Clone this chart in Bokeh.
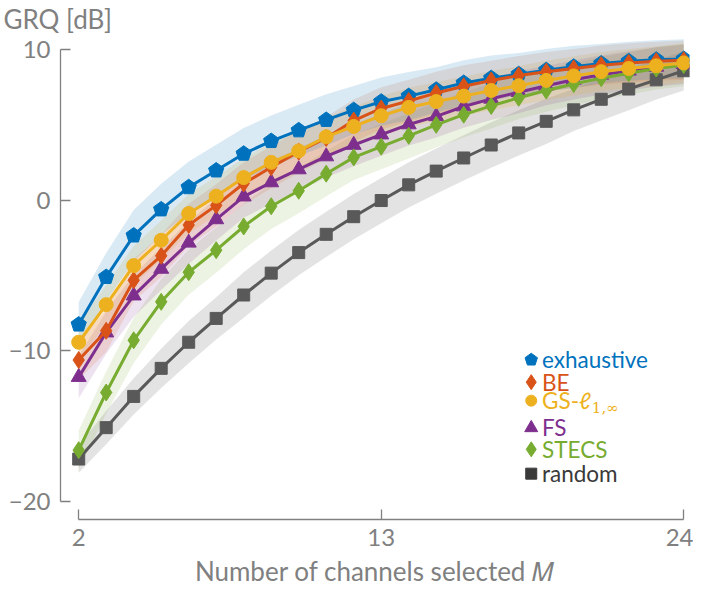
from bokeh.plotting import figure
from bokeh.models import Range1d, FixedTicker
from bokeh.core.properties import value
from bokeh.embed import file_html
from bokeh.resources import INLINE

# ---------------- data ----------------
M = list(range(2, 25))
x_ticks = [2, 13, 24]
y_ticks = [-20, -10, 0, 10]
y_tick_labels = {-20: "\u221220", -10: "\u221210", 0: "0", 10: "10"}

exhaustive = [-8.25, -5.10, -2.35, -0.62, 0.85, 1.96, 3.07, 3.91, 4.62, 5.31, 5.96, 6.52,
              6.89, 7.31, 7.76, 8.08, 8.34, 8.61, 8.83, 9.05, 9.20, 9.30, 9.35]
be = [-10.6, -8.66, -5.31, -3.69, -1.65, -0.35, 1.10, 2.18, 3.21, 4.12, 5.27, 6.07,
      6.57, 7.10, 7.54, 7.93, 8.25, 8.51, 8.72, 8.94, 9.09, 9.20, 9.27]
gs = [-9.42, -6.93, -4.34, -2.66, -0.89, 0.26, 1.49, 2.50, 3.26, 4.19, 4.88, 5.59,
      6.14, 6.53, 6.89, 7.26, 7.58, 7.93, 8.23, 8.51, 8.72, 8.90, 9.09]
fs = [-11.73, -8.78, -6.33, -4.56, -2.83, -1.28, 0.23, 1.17, 2.03, 2.89, 3.65, 4.34,
      5.01, 5.55, 6.20, 6.71, 7.15, 7.58, 7.97, 8.30, 8.57, 8.83, 9.0]
stecs = [-16.57, -12.75, -9.29, -6.74, -4.78, -3.32, -1.75, -0.41, 0.62, 1.75, 2.83, 3.54,
         4.26, 4.99, 5.66, 6.24, 6.78, 7.26, 7.69, 8.08, 8.40, 8.72, 8.95]
rnd = [-17.16, -15.08, -13.01, -11.15, -9.42, -7.84, -6.29, -4.84, -3.48, -2.27, -1.10, -0.03,
       1.01, 1.92, 2.79, 3.65, 4.45, 5.22, 5.98, 6.68, 7.36, 7.97, 8.57]

# spread (half width of the shaded band), dB
exhaustive_sd = [1.5, 1.6, 1.7, 1.7, 1.7, 1.7, 1.7, 1.7, 1.7, 1.7, 1.6, 1.6,
                 1.6, 1.5, 1.5, 1.5, 1.4, 1.4, 1.4, 1.3, 1.3, 1.3, 1.3]
be_sd = [1.3, 1.4, 1.4, 1.4, 1.4, 1.4, 1.4, 1.4, 1.4, 1.4, 1.4, 1.4,
         1.4, 1.4, 1.4, 1.3, 1.3, 1.3, 1.3, 1.3, 1.3, 1.3, 1.3]
gs_sd = [1.2, 1.3, 1.3, 1.3, 1.3, 1.3, 1.3, 1.3, 1.3, 1.3, 1.3, 1.3,
         1.3, 1.3, 1.3, 1.3, 1.3, 1.3, 1.3, 1.3, 1.3, 1.3, 1.3]
fs_sd = [1.4, 1.4, 1.4, 1.4, 1.4, 1.4, 1.4, 1.4, 1.4, 1.4, 1.4, 1.4,
         1.4, 1.4, 1.4, 1.4, 1.4, 1.3, 1.3, 1.3, 1.3, 1.3, 1.3]
stecs_sd = [1.3, 1.4, 1.5, 1.5, 1.5, 1.5, 1.5, 1.5, 1.5, 1.5, 1.5, 1.5,
            1.5, 1.5, 1.5, 1.5, 1.4, 1.4, 1.4, 1.4, 1.4, 1.4, 1.4]
rnd_sd = [0.9, 1.1, 1.2, 1.3, 1.4, 1.4, 1.5, 1.5, 1.5, 1.5, 1.5, 1.5,
          1.5, 1.5, 1.5, 1.5, 1.5, 1.5, 1.4, 1.4, 1.4, 1.3, 1.3]

names = ["exhaustive", "BE", "GS-\u2113", "FS", "STECS", "random"]
colors = ["#0072BD", "#D95319", "#EDB120", "#7E2F8E", "#77AC30", "#595959"]
text_colors = ["#0072BD", "#D95319", "#EDB120", "#7E2F8E", "#77AC30", "#3a3a3a"]

# ---------------- layout (reference pixels scaled to the canvas) ----------------
W, H = 693, 590
KX, KY = W / 709.0, H / 606.0


def sxp(v):
    return v * KX


def syp(v):
    return v * KY


FL, FR, FT, FB = round(sxp(61)), round(sxp(705)), round(syp(36)), round(syp(533))
CX2, CX24 = sxp(80), sxp(699)
CY10, CYm20 = syp(50), syp(515)
sx = (CX24 - CX2) / 22.0
sy = (CYm20 - CY10) / 30.0
x_start = 2 - (CX2 - FL) / sx
x_end = 24 + (FR - CX24) / sx
y_end = 10 + (CY10 - FT) / sy
y_start = -20 - (FB - CYm20) / sy


def cx2x(ix):
    return 2 + (sxp(ix) - CX2) / sx


def cy2y(iy):
    return 10 - (syp(iy) - CY10) / sy


FONT = "Lato"
GREY = "#808080"

p = figure(width=W, height=H, output_backend="svg", toolbar_location=None,
           x_range=Range1d(x_start, x_end), y_range=Range1d(y_start, y_end),
           min_border_left=FL, min_border_right=W - FR, min_border_top=FT,
           min_border_bottom=H - FB)
p.outline_line_color = None
p.xgrid.visible = False
p.ygrid.visible = False
p.background_fill_color = "white"

p.title.text = "GRQ [dB]"
p.title.align = "left"
p.title.offset = 3 - FL
p.title.standoff = 1
p.title.text_font = FONT
p.title.text_font_size = "26px"
p.title.text_font_style = "normal"
p.title.text_color = GREY

for ax, ticks, b in ((p.xaxis[0], x_ticks, (2, 24)), (p.yaxis[0], y_ticks, (-20, 10))):
    ax.ticker = FixedTicker(ticks=ticks)
    ax.bounds = b
    ax.axis_line_color = GREY
    ax.axis_line_width = 1.3
    ax.major_tick_line_color = GREY
    ax.major_tick_line_width = 1.3
    ax.major_tick_in = 10
    ax.major_tick_out = 0
    ax.minor_tick_line_color = None
    ax.major_label_text_font = FONT
    ax.major_label_text_font_size = "24px"
    ax.major_label_text_color = GREY

p.yaxis[0].major_label_overrides = y_tick_labels
p.yaxis[0].major_label_standoff = 10
p.xaxis[0].major_label_standoff = 9
p.xaxis[0].axis_label = "Number of channels selected \U0001D440"
p.xaxis[0].axis_label_text_font = FONT
p.xaxis[0].axis_label_text_font_style = "normal"
p.xaxis[0].axis_label_text_font_size = "26px"
p.xaxis[0].axis_label_text_color = GREY
p.xaxis[0].axis_label_standoff = 6

# bands
series = [rnd, stecs, fs, gs, be, exhaustive]
sds = [rnd_sd, stecs_sd, fs_sd, gs_sd, be_sd, exhaustive_sd]
band_cols = [colors[5], colors[4], colors[3], colors[2], colors[1], colors[0]]
band_alpha = [0.17, 0.14, 0.14, 0.16, 0.14, 0.15]
for ys, sd, c, a in zip(series, sds, band_cols, band_alpha):
    lo = [v - s for v, s in zip(ys, sd)]
    hi = [v + s for v, s in zip(ys, sd)]
    p.varea(x=M, y1=lo, y2=hi, fill_color=c, fill_alpha=a)

LW = 3


def pentagons(xs, ys, r, col):
    try:
        p.ngon(x=xs, y=ys, radius=r, radius_units="screen", n=5, angle=0,
               fill_color=col, line_color=col)
    except Exception:
        p.scatter(xs, ys, marker="hex", size=2 * r, fill_color=col, line_color=col)


# random
p.line(M, rnd, line_color=colors[5], line_width=LW)
p.scatter(M, rnd, marker="square", size=12, fill_color=colors[5], line_color=colors[5])
# FS
p.line(M, fs, line_color=colors[3], line_width=LW)
p.scatter(M, fs, marker="triangle", size=15, fill_color=colors[3], line_color=colors[3])
# STECS
p.line(M, stecs, line_color=colors[4], line_width=LW)
p.scatter(M, stecs, marker="diamond", size=17, fill_color=colors[4], line_color=colors[4])
# exhaustive
p.line(M, exhaustive, line_color=colors[0], line_width=LW)
pentagons(M, exhaustive, 8, colors[0])
# BE
p.line(M, be, line_color=colors[1], line_width=LW)
p.scatter(M, be, marker="diamond", size=17, fill_color=colors[1], line_color=colors[1])
# GS
p.line(M, gs, line_color=colors[2], line_width=LW)
p.scatter(M, gs, marker="circle", size=14, fill_color=colors[2], line_color=colors[2])

# ---------------- legend (drawn by hand for coloured texts) ----------------
leg_mx = cx2x(543)
leg_tx = cx2x(554)
rows_iy = [369, 392, 411, 439, 461, 486]
markers = ["pentagon", "diamond", "circle", "triangle", "diamond", "square"]
msizes = [13, 15, 11, 13, 15, 11]
for nm, mk, ms, iy, c, tc in zip(names, markers, msizes, rows_iy, colors, text_colors):
    yy = cy2y(iy)
    mc = c if nm != "random" else "#3a3a3a"
    if mk == "pentagon":
        pentagons([leg_mx], [yy], ms / 2, mc)
    else:
        p.scatter([leg_mx], [yy], marker=mk, size=ms, fill_color=mc, line_color=mc)
    p.text(x=[leg_tx], y=[yy], text=[nm], text_color=tc, text_font=value(FONT),
           text_font_size="22.5px", text_baseline="middle", text_align="left")
# subscript of GS-l_{1,inf}
p.text(x=[cx2x(605)], y=[cy2y(419)], text=["1,\u221e"], text_color=text_colors[2],
       text_font=value("DejaVu Serif"), text_font_size="15px", text_baseline="middle",
       text_align="left")

open("out.html", "w").write(file_html(p, INLINE))
